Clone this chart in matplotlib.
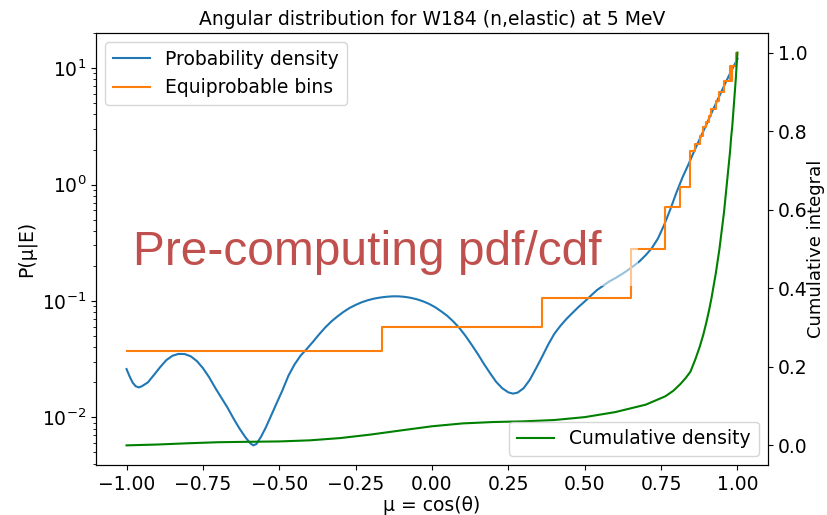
import numpy as np
import matplotlib
matplotlib.use("Agg")
import matplotlib.pyplot as plt
from matplotlib.patches import Rectangle

# Angular probability density P(mu|E) for W184 elastic scattering at 5 MeV
mu_pdf = [-1.00, -0.99, -0.98, -0.97, -0.96, -0.95, -0.93, -0.91, -0.89, -0.87,
          -0.85, -0.83, -0.81, -0.79, -0.77, -0.75, -0.73, -0.71, -0.69, -0.67,
          -0.65, -0.63, -0.61, -0.595, -0.585, -0.575, -0.56, -0.545, -0.53, -0.51,
          -0.49, -0.47, -0.45, -0.43, -0.41, -0.39, -0.37, -0.35, -0.33, -0.31,
          -0.29, -0.27, -0.25, -0.23, -0.21, -0.19, -0.17, -0.15, -0.13, -0.11,
          -0.09, -0.07, -0.05, -0.03, -0.01, 0.01, 0.03, 0.05, 0.07, 0.09,
          0.11, 0.13, 0.15, 0.17, 0.19, 0.21, 0.23, 0.25, 0.265, 0.28,
          0.30, 0.32, 0.34, 0.36, 0.38, 0.40, 0.42, 0.44, 0.46, 0.48,
          0.50, 0.52, 0.54, 0.56, 0.58, 0.60, 0.62, 0.64, 0.66, 0.68,
          0.70, 0.72, 0.74, 0.76, 0.78, 0.80, 0.82, 0.84, 0.86, 0.88,
          0.90, 0.92, 0.94, 0.96, 0.98, 1.00]
pdf = [0.0260, 0.0225, 0.0199, 0.0185, 0.0181, 0.0185, 0.0200, 0.0232, 0.0270, 0.0310,
       0.0338, 0.0351, 0.0350, 0.0335, 0.0305, 0.0265, 0.0222, 0.0180, 0.0148, 0.0122,
       0.0098, 0.0080, 0.0067, 0.0060, 0.00575, 0.0059, 0.0068, 0.0081, 0.0099, 0.0130,
       0.0170, 0.0228, 0.0285, 0.0340, 0.0387, 0.0445, 0.0515, 0.0590, 0.0665, 0.0735,
       0.0805, 0.0870, 0.0925, 0.0975, 0.1015, 0.1047, 0.1070, 0.1086, 0.1096, 0.1096,
       0.1085, 0.1065, 0.1035, 0.0995, 0.0945, 0.0885, 0.0815, 0.0745, 0.0665, 0.0585,
       0.0500, 0.0420, 0.0350, 0.0288, 0.0240, 0.0202, 0.0178, 0.0164, 0.0160, 0.0163,
       0.0178, 0.0210, 0.0262, 0.0330, 0.0420, 0.0520, 0.0610, 0.0700, 0.0790, 0.0890,
       0.0990, 0.1110, 0.1240, 0.1350, 0.1470, 0.1570, 0.1690, 0.1830, 0.2000, 0.2200,
       0.2480, 0.2850, 0.3450, 0.4500, 0.6100, 0.8500, 1.150, 1.500, 1.980, 2.580,
       3.350, 4.400, 5.700, 7.400, 9.500, 12.0]

# Edges of the 32 equiprobable bins
bin_edges = [-1.0, -0.164, 0.36, 0.652, 0.764, 0.813, 0.846, 0.862, 0.876, 0.888,
             0.898, 0.907, 0.915, 0.922, 0.929, 0.935, 0.941, 0.946, 0.951, 0.956,
             0.960, 0.964, 0.968, 0.972, 0.976, 0.979, 0.983, 0.986, 0.989, 0.992,
             0.995, 0.9973, 1.0]

# Cumulative integral of the density
mu_cdf = [-1.0, -0.9, -0.8, -0.7, -0.6, -0.5, -0.4, -0.3, -0.2, -0.1,
          0.0, 0.1, 0.2, 0.3, 0.4, 0.5, 0.6, 0.7, 0.764, 0.79,
          0.813, 0.83, 0.846, 0.862, 0.876, 0.888, 0.898, 0.907, 0.915, 0.922,
          0.929, 0.935, 0.941, 0.946, 0.951, 0.956, 0.960, 0.964, 0.968, 0.972,
          0.976, 0.979, 0.983, 0.986, 0.989, 0.992, 0.995, 0.9973, 1.0]
cdf = [0.0, 0.0021, 0.0053, 0.0080, 0.0091, 0.0100, 0.0128, 0.0186, 0.0276, 0.0382,
       0.0486, 0.0559, 0.0594, 0.0612, 0.0645, 0.0719, 0.0847, 0.1037, 0.125, 0.139,
       0.156, 0.171, 0.1875, 0.2188, 0.25, 0.2813, 0.3125, 0.3438, 0.375, 0.4063,
       0.4375, 0.4688, 0.5, 0.5313, 0.5625, 0.5938, 0.625, 0.6563, 0.6875, 0.7188,
       0.75, 0.7813, 0.8125, 0.8438, 0.875, 0.9063, 0.9375, 0.9688, 1.0]

plt.rcParams["font.size"] = 13.5

fig = plt.figure(figsize=(8.27, 5.15), dpi=100)
ax = fig.add_axes([96 / 827, 1 - 465 / 515, (768 - 96) / 827, (465 - 33) / 515])

edges = np.array(bin_edges)
heights = (1.0 / (len(edges) - 1)) / np.diff(edges)

ax.plot(mu_pdf, pdf, color="C0", lw=1.5, label="Probability density")
ax.step(edges, np.append(heights, heights[-1]), where="post", color="C1", lw=1.5,
        label="Equiprobable bins")
ax.set_yscale("log")
ax.set_xlabel("μ = cos(θ)", labelpad=1.5)
ax.set_ylabel("P(μ|E)")
ax.set_title("Angular distribution for W184 (n,elastic) at 5 MeV", fontsize=13.5)
ax.legend(loc="upper left")

ax2 = ax.twinx()
ax2.plot(mu_cdf, cdf, color="green", lw=1.5, label="Cumulative density")
ax2.set_ylabel("Cumulative integral", labelpad=0, fontsize=13)
ax2.legend(loc="lower right")

# Translucent panel behind the headline
fig.patches.append(Rectangle((125 / 827, 1 - 286 / 515), (638 - 125) / 827, 72 / 515,
                             transform=fig.transFigure, facecolor="white",
                             edgecolor="none", alpha=0.55, zorder=5))
fig.text(133 / 827, 1 - 265 / 515, "Pre-computing pdf/cdf", fontsize=34.5,
         family="Liberation Sans", color="#C0504D", va="baseline", ha="left", zorder=6)

fig.savefig("out.png", dpi=100)
